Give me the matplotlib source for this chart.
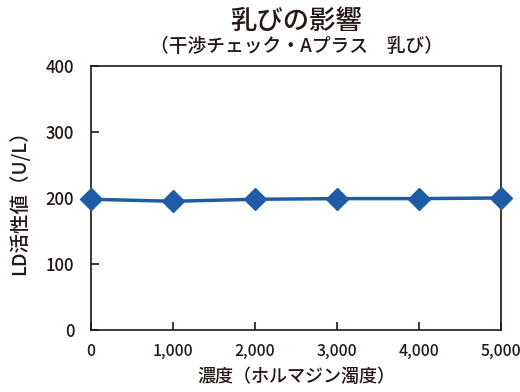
import matplotlib
matplotlib.use("Agg")
import matplotlib.pyplot as plt
from matplotlib.ticker import FuncFormatter

plt.rcParams['font.family'] = ['Noto Sans CJK JP', 'DejaVu Sans']
plt.rcParams['font.weight'] = 'medium'

concentration = [0, 1000, 2000, 3000, 4000, 5000]
ld_activity = [198, 195, 198, 199, 199, 200]
x_ticks = [0, 1000, 2000, 3000, 4000, 5000]
y_ticks = [0, 100, 200, 300, 400]

fig = plt.figure(figsize=(5.2, 3.92), dpi=100)
ax = fig.add_axes([0.175, 0.158, 0.7885, 0.674])

ax.plot(concentration, ld_activity, color='#1f5ca6', lw=2.5, marker='D',
        markersize=11, clip_on=False, zorder=3)

ax.set_xlim(0, 5000)
ax.set_ylim(0, 400)
ax.set_xticks(x_ticks)
ax.set_yticks(y_ticks)
ax.xaxis.set_major_formatter(FuncFormatter(lambda v, p: f"{int(v):,}"))
ax.tick_params(direction='in', length=6, width=1.2, labelsize=12,
               colors='#231815')
ax.tick_params(axis='y', pad=12)
ax.tick_params(axis='x', pad=9, labelsize=11.4)
for s in ax.spines.values():
    s.set_linewidth(1.2)
    s.set_color('#231815')

ax.set_xlabel("濃度（ホルマジン濁度）", fontsize=13, labelpad=6, color='#231815',
              fontweight='medium')
ax.set_ylabel("LD活性値（U/L）", fontsize=14, labelpad=12, color='#231815',
              fontweight='medium')

fig.text(0.57, 0.945, "乳びの影響", ha='center', va='center', fontsize=19,
         color='#231815', fontweight='medium')
fig.text(0.57, 0.882, "（干渉チェック・Aプラス　乳び）", ha='center', va='center',
         fontsize=13.5, color='#231815', fontweight='medium')

fig.savefig("out.png", dpi=100)
